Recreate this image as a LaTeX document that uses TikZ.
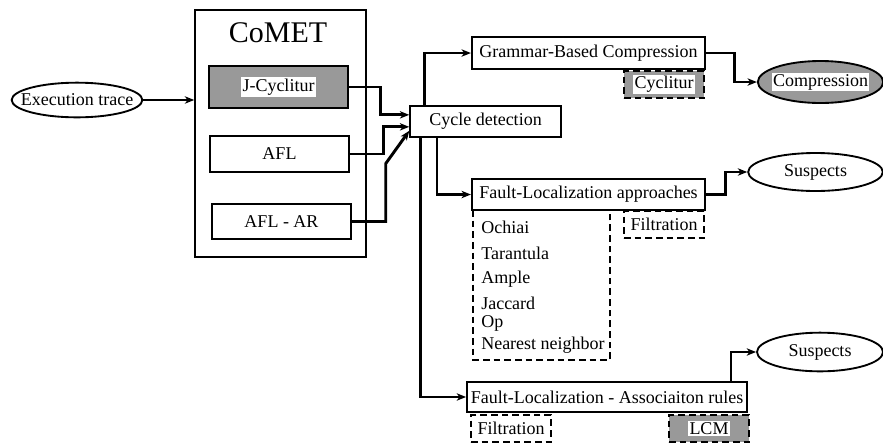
\documentclass[tikz,border=0pt]{standalone}
\usepackage{fontspec}
\setmainfont{Liberation Serif}
\usetikzlibrary{shapes.geometric, arrows.meta, positioning}

\definecolor{boxgray}{gray}{0.6}
\newcommand{\whitetag}[1]{{\setlength{\fboxsep}{1pt}\colorbox{white}{#1}}}

\begin{document}
\begin{tikzpicture}[x=0.75pt, y=-0.75pt, font=\fontsize{13.5}{16}\selectfont,
    box/.style={draw, line width=1.4pt, inner sep=0pt},
    tagbox/.style={draw, dash pattern=on 5pt off 3pt, line width=1.4pt, minimum width=60pt, minimum height=20pt, inner sep=0pt},
    oval/.style={draw, ellipse, line width=1.4pt, inner sep=0pt},
    arr/.style={line width=2.2pt, -{Stealth[length=7pt, width=5.5pt, inset=2pt]}}]
    \useasboundingbox (0,0) rectangle (883,444);

    % input and tool box
    \node[oval, minimum width=98pt, minimum height=26pt, label=center:Execution trace] (exec) at (77,100) {};
    \node[box, minimum width=128pt, minimum height=185pt] (comet) at (280.5,133.5) {};
    \node[font=\fontsize{22.5}{26}\selectfont] (title) at (278,33) {CoMET};
    \node[box, fill=boxgray, minimum width=104pt, minimum height=31.5pt] (jcy) at (278.5,87) {\whitetag{J-Cyclitur}};
    \node[box, minimum width=104pt, minimum height=27pt] (afl) at (279.5,154) {AFL};
    \node[box, minimum width=104pt, minimum height=26pt] (aflar) at (281.5,221.5) {AFL - AR};

    \node[box, minimum width=113pt, minimum height=23pt] (cyc) at (485.5,121.5) {Cycle detection};

    % compression branch
    \node[box, minimum width=175pt, minimum height=24pt] (gbc) at (588.5,53) {Grammar-Based Compression};
    \node[tagbox, fill=boxgray] (cyctag) at (664,84.5) {\whitetag{Cyclitur}};
    \node[oval, fill=boxgray, minimum width=94pt, minimum height=31.5pt, label=center:\whitetag{Compression}] (compr) at (820.5,82) {};

    % fault localization branch
    \node[box, minimum width=175pt, minimum height=23pt] (fla) at (588.5,194.5) {Fault-Localization approaches};
    \node[tagbox] (filt1) at (664,224.5) {Filtration};
    \node[oval, minimum width=101pt, minimum height=28.5pt, label=center:Suspects] (sus1) at (815.5,172) {};
    \draw[dash pattern=on 5pt off 3pt, line width=1.4pt] (473,210) -- (473,360) -- (610,360) -- (610,210);
    \foreach \meth/\ypos in {Ochiai/227, Tarantula/253, Ample/279, Jaccard/303, Op/323, Nearest neighbor/345}
        \node[anchor=west, inner sep=0pt] at (481,\ypos) {\meth};

    % association rules branch
    \node[box, minimum width=210pt, minimum height=22.5pt] (flar) at (607,397) {Fault-Localization - Associaiton rules};
    \node[tagbox] (filt2) at (511,428.5) {Filtration};
    \node[tagbox, fill=boxgray] (lcm) at (709,428.5) {\whitetag{LCM}};
    \node[oval, minimum width=94.5pt, minimum height=29pt, label=center:Suspects] (sus2) at (820,352) {};

    % connectors
    \draw[arr] (exec.east) -- (exec.east -| comet.west);
    \draw[arr] (jcy.east) -- ++(32,0) |- ([yshift=5pt]cyc.west);
    \draw[arr] (afl.east) -- ++(34,0) |- ([yshift=-4pt]cyc.west);
    \draw[arr] (aflar.east) -- ++(34,0) -- ++(0,-58) -- ([yshift=-7pt]cyc.west);
    \draw[arr] ([xshift=-46pt]cyc.north) |- (gbc.west);
    \draw[arr] (gbc.east) -- ++(28,0) |- (compr.west);
    \draw[arr] ([xshift=-36.4pt]cyc.south) |- (fla.west);
    \draw[arr] (fla.east) -- ++(19,0) |- (sus1.west);
    \draw[arr] ([xshift=-49pt]cyc.south) |- (flar.west);
    \draw[arr] ([xshift=93pt]flar.north) |- (sus2.west);
\end{tikzpicture}
\end{document}
